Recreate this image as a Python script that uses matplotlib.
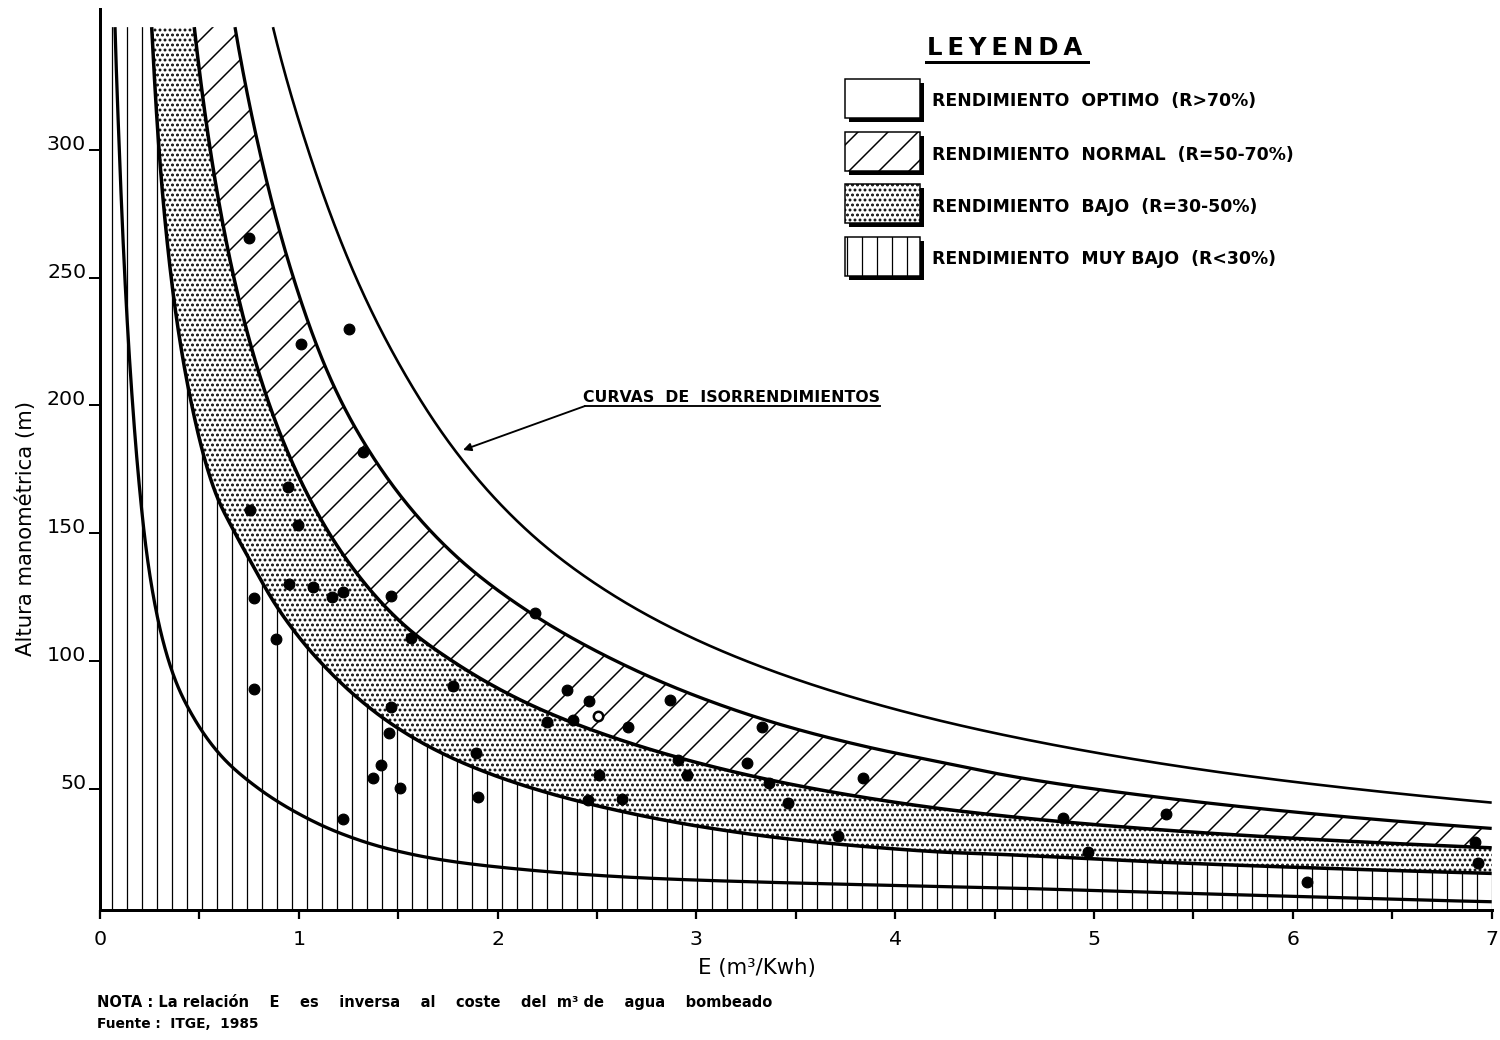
import numpy as np
import matplotlib
matplotlib.use("Agg")
import matplotlib.pyplot as plt
from matplotlib.patches import Polygon, Rectangle
from matplotlib.lines import Line2D

# ---------------- data ----------------
# measured pumping points (E in m3/kWh, H in m)
pts_E = [0.751, 1.253, 1.009, 1.324, 0.947, 0.755, 0.997, 0.952, 1.070, 1.169,
         1.224, 0.776, 1.462, 0.885, 1.564, 0.776, 1.774, 1.462, 1.453, 1.413,
         1.372, 1.509, 1.224, 1.891, 1.900, 2.188, 2.347, 2.461, 2.250, 2.381,
         2.654, 2.867, 2.456, 2.624, 2.510, 2.906, 2.951, 3.332, 3.253, 3.365,
         3.462, 3.714, 3.840, 4.843, 5.361, 4.967, 6.073, 6.916, 6.933]
pts_H = [265.4, 229.7, 223.9, 181.8, 167.9, 159.0, 153.2, 129.9, 128.8, 124.9,
         126.8, 124.7, 125.5, 108.5, 109.0, 89.0, 90.1, 81.8, 71.9, 59.2,
         54.0, 50.1, 38.0, 63.8, 46.8, 118.6, 88.6, 84.4, 76.2, 76.8,
         74.2, 84.7, 45.5, 45.8, 55.3, 61.2, 55.2, 74.0, 59.9, 52.1,
         44.2, 31.4, 54.0, 38.4, 40.0, 25.0, 13.5, 29.2, 20.7]
open_E = [2.507]
open_H = [78.5]

# iso-efficiency curves (read points)
c1_E = [0.87, 1.065, 1.316, 1.509, 1.786, 1.995, 2.213, 2.607, 4.024, 4.863, 5.70, 6.539, 7.0]
c1_H = [348.0, 300.0, 247.0, 216.0, 182.5, 163.0, 146.0, 124.5, 81.0, 66.4, 55.5, 47.8, 44.5]

c2_E = [0.679, 0.82, 0.956, 1.19, 1.408, 1.794, 2.18, 2.6, 3.018, 3.437, 3.857, 4.276,
        4.527, 5.366, 6.204, 7.0]
c2_H = [348.0, 298.0, 254.0, 204.0, 174.6, 140.7, 119.2, 100.3, 86.0, 74.2, 66.4, 59.9,
        56.0, 45.8, 39.6, 34.4]

c3_E = [0.474, 0.553, 0.671, 0.855, 1.04, 1.258, 1.564, 1.761, 2.18, 2.6, 3.018, 3.437,
        3.857, 4.276, 4.527, 5.366, 6.204, 7.0]
c3_H = [348.0, 300.0, 250.0, 200.0, 167.0, 137.0, 111.0, 101.0, 82.0, 70.3, 59.9, 52.1,
        46.5, 41.5, 39.2, 33.4, 29.9, 26.8]

c4_E = [0.26, 0.295, 0.35, 0.455, 0.59, 0.671, 0.755, 0.889, 1.023, 1.157, 1.291, 1.459,
        1.626, 1.794, 1.962, 2.18, 2.6, 3.018, 3.437, 3.857, 4.276, 4.527, 5.366, 6.204, 7.0]
c4_H = [348.0, 300.0, 250.0, 200.0, 165.0, 152.5, 139.4, 122.5, 106.8, 96.4, 86.0, 75.5,
        67.7, 61.2, 55.5, 50.5, 41.6, 35.1, 30.2, 27.0, 25.0, 24.0, 21.3, 18.8, 16.8]

c5_E = [0.0755, 0.097, 0.131, 0.168, 0.19, 0.243, 0.31, 0.386, 0.469, 0.62, 0.788, 0.989,
        1.207, 1.459, 1.71, 2.113, 2.767, 3.27, 3.773, 4.276, 4.527, 5.366, 6.204, 7.0]
c5_H = [348.0, 300.0, 250.0, 200.0, 175.0, 135.5, 109.4, 91.2, 76.8, 62.5, 51.4, 41.6,
        32.5, 25.9, 22.0, 17.8, 15.0, 13.5, 12.6, 11.8, 11.2, 9.6, 7.7, 5.7]

x_ticks = [0, 1, 2, 3, 4, 5, 6, 7]
x_ticklabels = ["0", "1", "2", "3", "4", "5", "6", "7"]
x_minor = [0.5, 1.5, 2.5, 3.5, 4.5, 5.5, 6.5]
y_ticks = [50, 100, 150, 200, 250, 300]
y_ticklabels = ["50", "100", "150", "200", "250", "300"]

legend_labels = ["RENDIMIENTO  OPTIMO  (R>70%)",
                 "RENDIMIENTO  NORMAL  (R=50-70%)",
                 "RENDIMIENTO  BAJO  (R=30-50%)",
                 "RENDIMIENTO  MUY BAJO  (R<30%)"]
legend_title = "L\u2009E\u2009Y\u2009E\u2009N\u2009D\u2009A"
annot_text = "CURVAS  DE  ISORRENDIMIENTOS"
x_label = "E (m\u00b3/Kwh)"
y_label = "Altura manométrica (m)"
note_text = ("NOTA : La relación    E    es    inversa    al    coste    del  "
             "m\u00b3 de    agua    bombeado")
source_text = "Fuente :  ITGE,  1985"

# ---------------- figure ----------------
W, HP, DPI = 1500, 1040, 90
plt.rcParams["hatch.linewidth"] = 1.0
plt.rcParams["font.family"] = ["DejaVu Sans"]
fig = plt.figure(figsize=(W / DPI, HP / DPI), dpi=DPI)
fig.patch.set_facecolor("white")


def fx(px):
    return px / W


def fy(py):
    return 1 - py / HP


ax = fig.add_axes([fx(100), fy(910), (1491.7 - 100) / W, (910 - 9) / HP])
YMIN, YMAX = 2.47, 355.1
ax.set_xlim(0, 7)
ax.set_ylim(YMIN, YMAX)


def smooth_curve(E, H, n=700, passes=2):
    """Smooth line through the read points: light smoothing of log(E*H),
    then cubic Hermite interpolation in log-log space."""
    x = np.log(np.asarray(E, float))
    lk = np.log(np.asarray(H, float)) + x
    for _ in range(passes):
        s = lk.copy()
        s[1:-1] = 0.25 * lk[:-2] + 0.5 * lk[1:-1] + 0.25 * lk[2:]
        lk = s
    y = lk - x
    h = np.diff(x)
    d = np.diff(y) / h
    m = np.empty_like(x)
    m[0], m[-1] = d[0], d[-1]
    m[1:-1] = (h[1:] * d[:-1] + h[:-1] * d[1:]) / (h[:-1] + h[1:])
    xs = np.linspace(x[0], x[-1], n)
    i = np.clip(np.searchsorted(x, xs) - 1, 0, len(h) - 1)
    t = (xs - x[i]) / h[i]
    h00 = 2 * t**3 - 3 * t**2 + 1
    h10 = t**3 - 2 * t**2 + t
    h01 = -2 * t**3 + 3 * t**2
    h11 = t**3 - t**2
    ys = h00 * y[i] + h10 * h[i] * m[i] + h01 * y[i + 1] + h11 * h[i] * m[i + 1]
    return np.exp(xs), np.exp(ys)


curves = [(c1_E, c1_H, 2.1), (c2_E, c2_H, 2.6), (c3_E, c3_H, 2.8),
          (c4_E, c4_H, 2.8), (c5_E, c5_H, 2.6)]
dense = [smooth_curve(E, H) for E, H, _ in curves]
x2, y2 = dense[1]
x3, y3 = dense[2]
x4, y4 = dense[3]


def hatch_patch(p, hlw):
    if hasattr(p, "set_hatch_linewidth"):
        p.set_hatch_linewidth(hlw)
    return p


# regions
vb = [(0, YMIN), (0, y4[0])] + list(zip(x4, y4)) + [(7, YMIN)]
ax.add_patch(hatch_patch(Polygon(vb, closed=True, facecolor="white", edgecolor="black",
                                 lw=0, hatch="|", zorder=1), 1.0))
bajo = list(zip(x4, y4)) + list(zip(x3[::-1], y3[::-1]))
ax.add_patch(hatch_patch(Polygon(bajo, closed=True, facecolor="white", edgecolor="black",
                                 lw=0, hatch="...", zorder=1), 1.5))
normal = list(zip(x3, y3)) + list(zip(x2[::-1], y2[::-1]))
ax.add_patch(hatch_patch(Polygon(normal, closed=True, facecolor="white", edgecolor="black",
                                 lw=0, hatch="/", zorder=1), 1.2))

# curves
for (xd, yd), (_, _, lw) in zip(dense, curves):
    ax.plot(xd, yd, color="black", lw=lw, solid_capstyle="butt", zorder=3)

# points
ax.plot(pts_E, pts_H, "o", color="black", ms=8.5, zorder=5)
ax.plot(open_E, open_H, "o", mfc="white", mec="black", mew=2.0, ms=7.5, zorder=5)

# axes styling
for s in ["top", "right"]:
    ax.spines[s].set_visible(False)
for s in ["left", "bottom"]:
    ax.spines[s].set_linewidth(2.4)
    ax.spines[s].set_zorder(6)
ax.set_xticks(x_ticks)
ax.set_xticklabels(x_ticklabels)
ax.set_xticks(x_minor, minor=True)
ax.set_yticks(y_ticks)
ax.set_yticklabels(y_ticklabels)
ax.tick_params(axis="x", which="both", direction="out", length=7, width=1.8,
               labelsize=16.4, pad=9)
ax.tick_params(axis="y", which="both", direction="out", length=9, width=1.6,
               labelsize=16.4, pad=2)
for lab in ax.get_yticklabels():
    lab.set_va("baseline")

fig.text(fx(757), fy(968), x_label, ha="center", va="center", fontsize=17)
fig.text(fx(26), fy(528), y_label, ha="center", va="center", rotation=90, fontsize=17)

# annotation
ann_tail = ((585 - 100) / 198.8, (916.3 - 406) / 2.555)
ann_head = ((463 - 100) / 198.8, (916.3 - 450) / 2.555)
ax.annotate("", xy=ann_head, xytext=ann_tail,
            arrowprops=dict(arrowstyle="-|>", color="black", lw=1.5,
                            mutation_scale=13, shrinkA=0, shrinkB=0), zorder=6)
fig.text(fx(583), fy(402), annot_text, ha="left", va="baseline",
         fontsize=12.6, fontweight="bold")
fig.add_artist(Line2D([fx(585), fx(880)], [fy(406), fy(406)], color="black", lw=1.5))

# legend
fig.text(fx(927), fy(55), legend_title, ha="left", va="baseline",
         fontsize=19.5, fontweight="bold")
fig.add_artist(Line2D([fx(926), fx(1088)], [fy(61.5), fy(61.5)], color="black", lw=2.4))
hatches = ["", "/", "...", "|"]
hlws = [1.0, 1.2, 1.5, 1.0]
tops = [79, 132, 184, 237]
bw, bh = 75, 39
for top, hatch, hlw, lab in zip(tops, hatches, hlws, legend_labels):
    fig.add_artist(Rectangle((fx(845 + 4), fy(top + bh + 4)), bw / W, bh / HP,
                             transform=fig.transFigure, facecolor="black",
                             edgecolor="black", lw=0))
    fig.add_artist(hatch_patch(Rectangle((fx(845), fy(top + bh)), bw / W, bh / HP,
                                         transform=fig.transFigure, facecolor="white",
                                         edgecolor="black", lw=1.2, hatch=hatch), hlw))
    fig.text(fx(932), fy(top + bh / 2 + 3), lab, ha="left", va="center",
             fontsize=13.8, fontweight="bold")

# notes
fig.text(fx(97), fy(1002), note_text, ha="left", va="center", fontsize=11.7,
         fontweight="bold")
fig.text(fx(97), fy(1024), source_text, ha="left", va="center", fontsize=11,
         fontweight="bold")

fig.savefig("out.png", dpi=DPI, facecolor="white")
